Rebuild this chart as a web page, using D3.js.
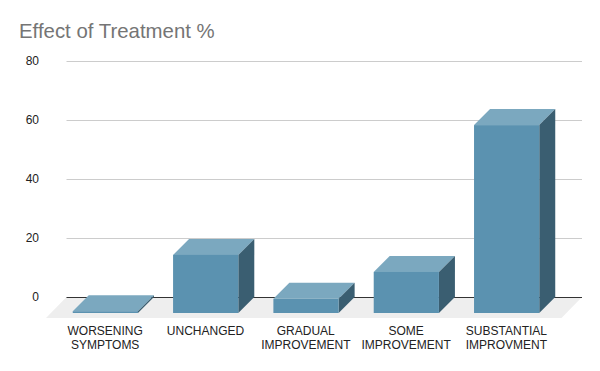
<!DOCTYPE html>
<html>
<head>
<meta charset="utf-8">
<script src="https://cdn.jsdelivr.net/npm/d3@7"></script>
<style>
html,body{margin:0;padding:0;background:#fff}
svg{display:block}
text{font-family:"Liberation Sans",Arial,sans-serif}
</style>
</head>
<body>
<svg id="chart" width="600" height="371"></svg>
<script>
const title = 'Effect of Treatment %'
const categories = ['WORSENING SYMPTOMS','UNCHANGED','GRADUAL IMPROVEMENT','SOME IMPROVEMENT','SUBSTANTIAL IMPROVMENT']
const labelLines = [['WORSENING','SYMPTOMS'],['UNCHANGED'],['GRADUAL','IMPROVEMENT'],['SOME','IMPROVEMENT'],['SUBSTANTIAL','IMPROVMENT']]
const values = [0.6,19.7,4.8,13.9,63.7]
const yTicks = [0,20,40,60,80]

const depth = 16, floor_dx = 20.5, floor_dy = 21
const svg = d3.select('#chart')

var yScale = d3.scaleLinear().domain([0,80]).range([297,61])
var xScale = d3.scaleBand().domain(categories).range([55.7,556.3]).paddingInner(0.35).paddingOuter(0.17)
const grid_left = 66.5, grid_right = 582

svg.append('text')
	.attr('x',19).attr('y',38)
	.attr('font-size',20.4)
	.attr('fill','#757575')
	.text(title)

// gridlines + tick labels
var axis = d3.axisLeft(yScale).tickValues(yTicks).tickSize(-(grid_right-grid_left)).tickPadding(27.5)
var axisG = svg.append('g').attr('transform',`translate(${grid_left},0)`).call(axis)
axisG.select('.domain').remove()
axisG.selectAll('line').attr('stroke','#cccccc')
axisG.selectAll('text').attr('font-size',12).attr('fill','#222').attr('font-family','"Liberation Sans"')

// floor
var y0 = yScale(0)
svg.append('polygon')
	.attr('points',[[grid_left,y0],[grid_right,y0],[grid_right-floor_dx,y0+floor_dy],[grid_left-floor_dx,y0+floor_dy]].join(' '))
	.attr('fill','#eeeeee')
svg.append('line')
	.attr('x1',grid_left).attr('x2',grid_right).attr('y1',y0+0.5).attr('y2',y0+0.5)
	.attr('stroke','#333333')

// bars
var bars = svg.selectAll('.bar').data(values).join('g').attr('class','bar')
	.attr('transform',(d,i)=>`translate(${xScale(categories[i])},${depth})`)
var w = xScale.bandwidth()
bars.append('polygon').attr('fill','#7ba8bf')
	.attr('points',d=>[[0,yScale(d)],[depth,yScale(d)-depth],[w+depth,yScale(d)-depth],[w,yScale(d)]].join(' '))
bars.append('polygon').attr('fill','#3a5e71')
	.attr('points',d=>[[w,yScale(d)],[w+depth,yScale(d)-depth],[w+depth,y0-depth],[w,y0]].join(' '))
bars.append('rect').attr('fill','#5b92b0')
	.attr('x',0).attr('width',w)
	.attr('y',d=>yScale(d)).attr('height',d=>y0-yScale(d))

// category labels
svg.selectAll('.cat').data(labelLines).join('text').attr('class','cat')
	.attr('text-anchor','middle')
	.attr('font-size',12)
	.attr('fill','#222')
	.each(function(lines,i){
		d3.select(this).selectAll('tspan').data(lines).join('tspan')
			.attr('x',xScale(categories[i])+w/2-0.2)
			.attr('y',(l,j)=>335+j*14)
			.text(l=>l)
	})
</script>
</body>
</html>
